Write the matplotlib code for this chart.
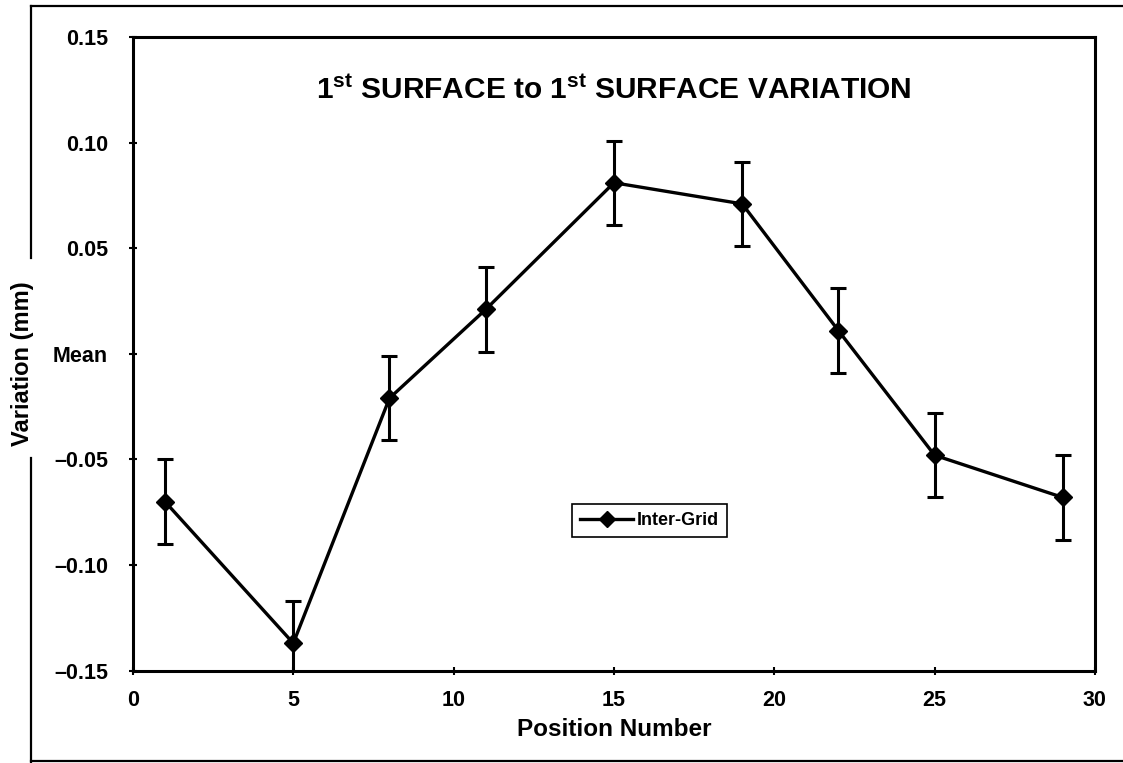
import matplotlib.pyplot as plt
from matplotlib.lines import Line2D

plt.rcParams['font.family'] = ['Liberation Sans', 'DejaVu Sans']
plt.rcParams['font.weight'] = 'bold'
plt.rcParams['mathtext.fontset'] = 'custom'
plt.rcParams['mathtext.rm'] = 'Liberation Sans:bold'
plt.rcParams['mathtext.it'] = 'Liberation Sans:bold'
plt.rcParams['mathtext.bf'] = 'Liberation Sans:bold'

positions = [1, 5, 8, 11, 15, 19, 22, 25, 29]
variation = [-0.070, -0.137, -0.021, 0.021, 0.081, 0.071, 0.011, -0.048, -0.068]
error = [0.02, 0.02, 0.02, 0.02, 0.02, 0.02, 0.02, 0.02, 0.02]
y_ticks = [-0.15, -0.10, -0.05, 0.0, 0.05, 0.10, 0.15]
y_labels = ['\u20130.15', '\u20130.10', '\u20130.05', 'Mean', '0.05', '0.10', '0.15']
x_ticks = [0, 5, 10, 15, 20, 25, 30]

fig = plt.figure(figsize=(11.23, 7.63), dpi=100)
ax = fig.add_axes([0.1184, 0.121, 0.8566, 0.8305])

ax.errorbar(positions, variation, yerr=error, fmt='none', ecolor='black',
            capsize=6, capthick=2.2, elinewidth=2.2)
ax.plot(positions, variation, color='black', lw=2.4, marker='D',
        markersize=9, label='Inter-Grid')

ax.set_xlim(0, 30)
ax.set_ylim(-0.15, 0.15)
ax.set_xticks(x_ticks)
ax.set_yticks(y_ticks)
ax.set_yticklabels(y_labels)
ax.tick_params(axis='both', direction='inout', length=6, width=1.5, labelsize=15.5)
ax.tick_params(axis='y', pad=15)
ax.tick_params(axis='x', pad=11)
for s in ax.spines.values():
    s.set_linewidth(2.2)

ax.set_xlabel('Position Number', fontsize=17.5, fontweight='bold', labelpad=5)
ax.text(0.5, 0.915, r'1$^{\rm st}$ SURFACE to 1$^{\rm st}$ SURFACE VARIATION',
        transform=ax.transAxes, ha='center', va='center', fontsize=21.5,
        fontweight='bold')

leg = ax.legend(loc='center', bbox_to_anchor=(0.537, 0.237), fancybox=False,
                framealpha=1, edgecolor='black', fontsize=13, handlelength=2.9,
                borderpad=0.45, handletextpad=0.2, markerscale=0.85)
leg.get_frame().set_linewidth(1.2)

fig.text(0.02, 0.524, 'Variation (mm)', rotation=90, ha='center', va='center',
         fontsize=17, fontweight='bold')

# outer frame of the scanned page
W, H = 1123, 763
frame = [((31, W), (6, 6)), ((31, 31), (6, 258)), ((31, 31), (458, 763)),
         ((31, W), (761, 761))]
for xs, ys in frame:
    fig.add_artist(Line2D([x / W for x in xs], [1 - y / H for y in ys],
                          color='black', lw=1.6))

fig.savefig('out.png', dpi=100)
